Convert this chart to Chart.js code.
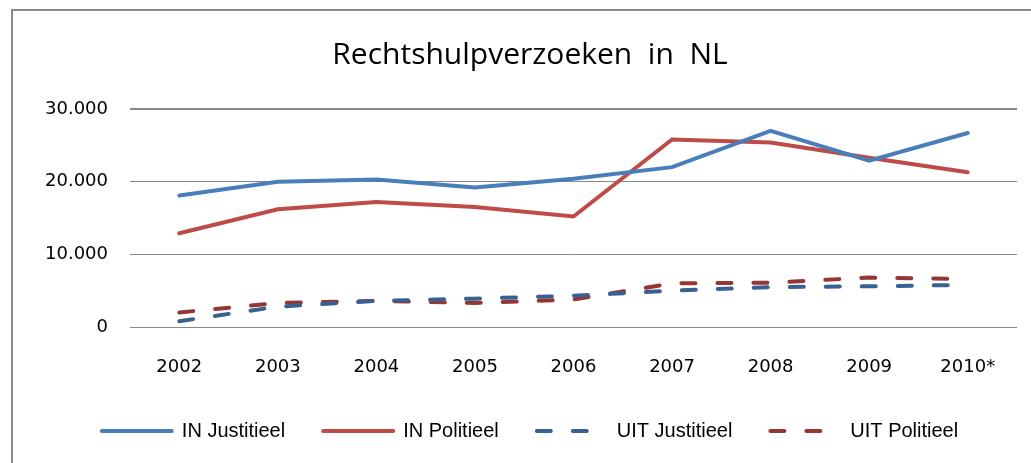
<!DOCTYPE html>
<html>
<head>
<meta charset="utf-8">
<script src="https://cdn.jsdelivr.net/npm/chart.js@4/dist/chart.umd.min.js"></script>
<style>
  html, body { margin: 0; padding: 0; background: #fff; overflow: hidden; }
  #box { position: absolute; left: 11px; top: 9px; width: 1100px; height: 520px; border: 2px solid #8a8a8a; }
  #wrap { position: absolute; left: 12px; top: 10px; width: 1036px; height: 453px; }
</style>
</head>
<body>
<div id="box"></div>
<div id="wrap"><canvas id="Chart_1"></canvas></div>
<script>
let jaren = ['2002', '2003', '2004', '2005', '2006', '2007', '2008', '2009', '2010*'];
let inJustitieel = [18100, 20000, 20300, 19200, 20400, 22000, 27000, 22900, 26700];
let inPolitieel = [12900, 16200, 17200, 16500, 15200, 25800, 25400, 23300, 21300];
let uitJustitieel = [800, 2800, 3600, 3900, 4300, 5000, 5500, 5600, 5800];
let uitPolitieel = [2000, 3300, 3600, 3300, 3800, 6000, 6100, 6800, 6600];
let yTicks = [0, 10000, 20000, 30000];

function lijn(label, data, kleur, dash) {
  return {
    label: label,
    data: data,
    borderColor: kleur,
    backgroundColor: kleur,
    borderWidth: 4,
    borderDash: dash,
    borderCapStyle: 'round',
    pointRadius: 0,
    tension: 0,
    fill: false
  };
}

function punten(v) {
  return String(v).replace(/\B(?=(\d{3})+(?!\d))/g, '.');
}

// legend with the dash of the dataset line
function legendaItems(chart) {
  let items = Chart.defaults.plugins.legend.labels.generateLabels(chart);
  items.forEach(function (it, i) {
    let ds = chart.data.datasets[i];
    it.lineDash = ds.borderDash;
    it.lineWidth = 4;
    it.lineCap = 'round';
    it.strokeStyle = ds.borderColor;
  });
  return items;
}

let cxt = document.getElementById('Chart_1');
let grafiek = new Chart(cxt, {
  type: 'line',
  data: {
    labels: jaren,
    datasets: [
      lijn('IN Justitieel', inJustitieel, '#4a7ebb', []),
      lijn('IN Politieel', inPolitieel, '#be4b48', []),
      lijn('UIT Justitieel', uitJustitieel, '#386192', [14, 22]),
      lijn('UIT Politieel', uitPolitieel, '#943634', [14, 22])
    ]
  },
  options: {
    responsive: true,
    maintainAspectRatio: false,
    animation: false,
    layout: { padding: { left: 31, right: 31, top: 0, bottom: 12 } },
    plugins: {
      title: {
        display: true,
        text: 'Rechtshulpverzoeken  in  NL',
        color: '#000',
        font: { family: 'Open Sans', size: 30, weight: 'normal' },
        padding: { top: 27, bottom: 36 }
      },
      legend: {
        position: 'bottom',
        labels: {
          color: '#000',
          font: { family: 'Liberation Sans', size: 20 },
          boxWidth: 70,
          boxHeight: 4,
          usePointStyle: true,
          pointStyle: 'line',
          pointStyleWidth: 70,
          padding: 38,
          generateLabels: legendaItems
        }
      },
      tooltip: { enabled: false }
    },
    scales: {
      x: {
        offset: true,
        grid: { display: false, drawTicks: false },
        border: { display: false },
        ticks: { color: '#000', font: { family: 'DejaVu Sans', size: 18 }, padding: 30 },
        afterFit: function (s) { s.height = 56; }
      },
      y: {
        min: 0,
        max: 30000,
        afterBuildTicks: function (s) { s.ticks = yTicks.map(v => ({ value: v })); },
        afterFit: function (s) { s.width = 87; },
        grid: { color: '#878787', lineWidth: c => c.tick && c.tick.value === 30000 ? 2 : 1, drawTicks: false },
        border: { display: false },
        ticks: { color: '#000', font: { family: 'DejaVu Sans', size: 18 }, padding: 22, callback: v => punten(v) }
      }
    }
  }
});
</script>
</body>
</html>
